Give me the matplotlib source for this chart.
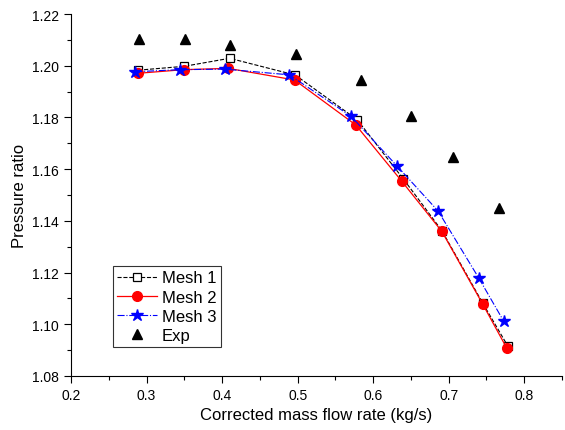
import matplotlib
matplotlib.use("Agg")
import matplotlib.pyplot as plt
from matplotlib.ticker import MultipleLocator

plt.rcParams['font.family'] = ['Liberation Sans', 'DejaVu Sans']

# data
mesh1_x = [0.289, 0.350, 0.410, 0.497, 0.579, 0.640, 0.691, 0.745, 0.778]
mesh1_y = [1.1983, 1.1998, 1.2029, 1.1964, 1.1791, 1.1562, 1.1362, 1.1082, 1.0917]
mesh2_x = [0.289, 0.349, 0.408, 0.496, 0.577, 0.638, 0.691, 0.745, 0.777]
mesh2_y = [1.1971, 1.1985, 1.1990, 1.1945, 1.1771, 1.1553, 1.1359, 1.1078, 1.0907]
mesh3_x = [0.285, 0.344, 0.404, 0.489, 0.571, 0.632, 0.686, 0.740, 0.773]
mesh3_y = [1.1977, 1.1985, 1.1987, 1.1965, 1.1804, 1.1611, 1.1438, 1.1178, 1.1011]
exp_x = [0.290, 0.351, 0.410, 0.498, 0.584, 0.650, 0.706, 0.767]
exp_y = [1.2103, 1.2103, 1.2080, 1.2045, 1.1945, 1.1804, 1.1646, 1.1448]

fig = plt.figure(figsize=(5.65, 4.31), dpi=100)
ax = fig.add_axes([0.1257, 0.1253, 0.869, 0.8397])

ax.plot(mesh1_x, mesh1_y, color='black', linestyle='--', linewidth=0.8,
        marker='s', markersize=6, markerfacecolor='white', markeredgecolor='black',
        markeredgewidth=0.9, label='Mesh 1')
ax.plot(mesh2_x, mesh2_y, color='red', linestyle='-', linewidth=0.9,
        marker='o', markersize=7, markerfacecolor='red', markeredgecolor='red',
        label='Mesh 2')
ax.plot(mesh3_x, mesh3_y, color='blue', linestyle='-.', linewidth=0.8,
        marker='*', markersize=9, markerfacecolor='blue', markeredgecolor='blue',
        label='Mesh 3')
ax.plot(exp_x, exp_y, linestyle='none', marker='^', markersize=7,
        color='black', label='Exp')

ax.set_xlim(0.2, 0.85)
ax.set_ylim(1.08, 1.22)
ax.xaxis.set_major_locator(MultipleLocator(0.1))
ax.xaxis.set_minor_locator(MultipleLocator(0.05))
ax.yaxis.set_major_locator(MultipleLocator(0.02))
ax.yaxis.set_minor_locator(MultipleLocator(0.01))
ax.xaxis.set_major_formatter(plt.FormatStrFormatter('%.1f'))
ax.yaxis.set_major_formatter(plt.FormatStrFormatter('%.2f'))

ax.spines['top'].set_visible(False)
ax.spines['right'].set_visible(False)
ax.tick_params(which='major', direction='out', length=5, width=0.8, labelsize=10)
ax.tick_params(which='minor', direction='out', length=3, width=0.8)

ax.set_xlabel('Corrected mass flow rate (kg/s)', fontsize=12)
ax.set_ylabel('Pressure ratio', fontsize=12)

leg = ax.legend(loc='lower left', bbox_to_anchor=(0.085, 0.08), fontsize=12,
                frameon=True, fancybox=False, edgecolor='black',
                handlelength=2.4, borderpad=0.25, labelspacing=0.25,
                handletextpad=0.3, borderaxespad=0)
leg.get_frame().set_linewidth(0.8)

fig.savefig('out.png', dpi=100)
